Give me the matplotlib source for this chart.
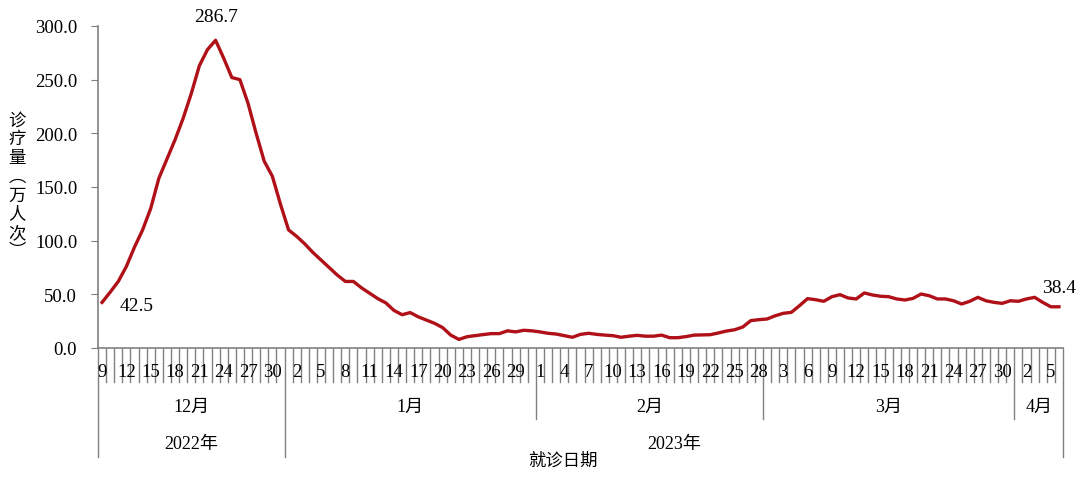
import numpy as np
import pandas as pd
import matplotlib
matplotlib.use('Agg')
import matplotlib.pyplot as plt
from matplotlib.transforms import blended_transform_factory

# daily visits (10k person-times), 2022-12-09 .. 2023-04-06
values = [42.5, 52, 62, 76, 94, 110, 130, 158, 176, 194,
          214, 237, 263, 278, 286.7, 270, 252, 250, 228, 200,
          174, 160, 134, 110, 104, 97, 89, 82, 75, 68,
          62, 62, 56, 51, 46, 42, 35, 31, 33, 29,
          26, 23, 19, 12, 8, 10.5, 11.5, 12.5, 13.4, 13.4,
          16, 15, 16.5, 16, 15, 13.7, 13, 11.5, 10, 12.7,
          13.7, 12.7, 12, 11.5, 10, 11, 11.8, 11, 11, 12,
          9.6, 9.6, 10.6, 12, 12.2, 12.4, 14, 15.8, 17, 19.5,
          25.5, 26.4, 27, 30, 32.3, 33.2, 39.4, 46, 45, 43.5,
          47.8, 49.7, 46.6, 45.7, 51.3, 49.4, 48.2, 47.8, 45.7, 44.7,
          46.2, 50.3, 48.7, 45.7, 45.7, 44, 41, 43.5, 47.2, 44,
          42.5, 41.6, 44, 43.5, 45.7, 47.2, 42.5, 38.4, 38.4]
dates = pd.date_range('2022-12-09', '2023-04-06', freq='D')
months = ['12月', '1月', '2月', '3月', '4月']
years = ['2022年', '2023年']
annotations = {0: '42.5', 14: '286.7', 118: '38.4'}

serif = ['Liberation Serif', 'Noto Sans CJK SC']
cjk = ['Noto Sans CJK SC', 'DejaVu Sans']
plt.rcParams['font.family'] = serif

fig = plt.figure(figsize=(10.8, 4.81), dpi=100)
ax = fig.add_axes([98 / 1080, 1 - 349 / 481, 965 / 1080, 322 / 481])

x = np.arange(len(values))
ax.plot(x, values, color='#B01018', lw=2.4, solid_joinstyle='round')

ax.set_xlim(-0.5, len(values) - 0.5)
ax.set_ylim(0, 300)
ax.set_yticks(np.arange(0, 301, 50))
ax.set_yticklabels(['%.1f' % v for v in np.arange(0, 301, 50)], fontsize=13.5)
ax.tick_params(axis='y', length=5, color='#808080', pad=10)

for s in ['top', 'right']:
    ax.spines[s].set_visible(False)
ax.spines['left'].set_color('#808080')
ax.spines['bottom'].set_color('#808080')
ax.spines['left'].set_linewidth(1.2)
ax.spines['bottom'].set_linewidth(1.2)

# day labels every 3 days, ticks between categories
ax.set_xticks([])
tr = blended_transform_factory(ax.transData, fig.transFigure)
yb = 1 - 349 / 481
for i, d in enumerate(dates):
    if i % 3 == 0:
        ax.text(i, 1 - 373 / 481, str(d.day), transform=tr, ha='center',
                va='center', fontsize=13.5)

month_idx = [m for m in range(len(dates)) if m == 0 or dates[m].month != dates[m - 1].month]
year_idx = [m for m in range(len(dates)) if m == 0 or dates[m].year != dates[m - 1].year]
for b in range(len(dates) + 1):
    if b in year_idx or b == len(dates):
        y_end = 1 - 458 / 481
    elif b in month_idx:
        y_end = 1 - 420 / 481
    else:
        y_end = 1 - 383 / 481
    ax.plot([b - 0.5, b - 0.5], [yb, y_end], transform=tr, color='#808080',
            lw=1, clip_on=False)

bounds = month_idx + [len(dates)]
for k, name in enumerate(months):
    c = (bounds[k] + bounds[k + 1] - 1) / 2
    ax.text(c, 1 - 407 / 481, name, transform=tr, ha='center', va='center',
            fontsize=13)
ybounds = year_idx + [len(dates)]
for k, name in enumerate(years):
    c = (ybounds[k] + ybounds[k + 1] - 1) / 2
    ax.text(c, 1 - 445 / 481, name, transform=tr, ha='center', va='center',
            fontsize=13)

fig.text(563 / 1080, 1 - 461 / 481, '就诊日期', ha='center', va='center',
         fontsize=12.5, family=cjk)
fig.text(17 / 1080, 1 - 186 / 481, '\n'.join('诊疗量︵万人次︶'), ha='center',
         va='center', fontsize=12.5, family=cjk, linespacing=1.05)

# value labels
ax.annotate(annotations[0], (0, values[0]), xytext=(13, -2),
            textcoords='offset points', fontsize=14, va='center')
ax.annotate(annotations[14], (14, values[14]), xytext=(0, 11),
            textcoords='offset points', fontsize=14, ha='center',
            va='bottom', annotation_clip=False)
ax.annotate(annotations[118], (118, values[118]), xytext=(0, 8),
            textcoords='offset points', fontsize=14, ha='center',
            va='bottom', annotation_clip=False)

fig.savefig('out.png', dpi=100)
